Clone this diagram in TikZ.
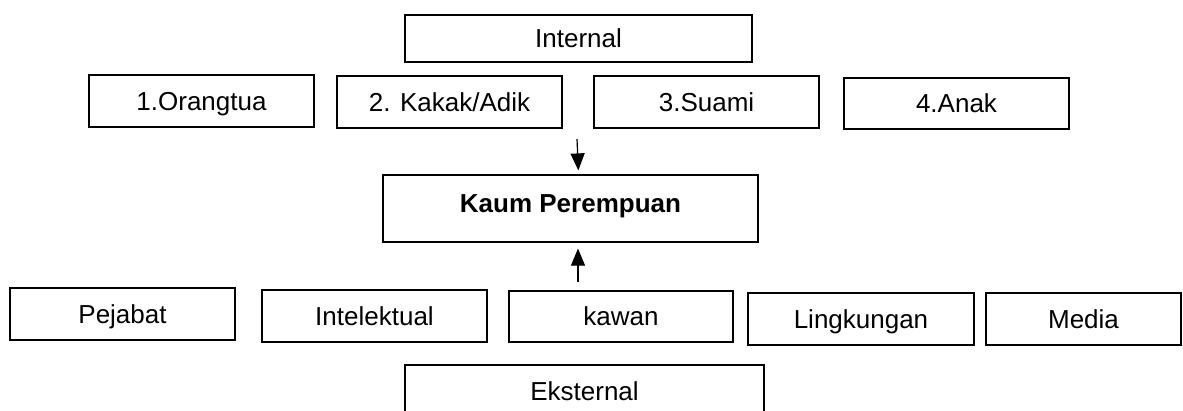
\documentclass[tikz,border=0pt]{standalone}
\usepackage{fontspec}
\setmainfont{Liberation Sans}
\usetikzlibrary{arrows.meta,calc}
\tikzset{
  boxnode/.style={draw, line width=1.2pt, inner sep=0pt, text height=18.6pt, text depth=0pt, font=\fontsize{26}{30}\selectfont},
  arr/.style={line width=1.2pt, -{Triangle[length=17pt,width=14pt]}}
}
\begin{document}
\begin{tikzpicture}[x=1pt,y=-1pt]
\useasboundingbox[fill=white] (0,0) rectangle (1183,410);
\node[boxnode, minimum width=347pt, minimum height=47pt] (internal) at (578.5,38.5) {Internal};
\node[boxnode, minimum width=225pt, minimum height=52pt] (orangtua) at (201.5,101) {1.Orangtua};
\node[boxnode, minimum width=225pt, minimum height=52pt] (kakak) at (449.5,102) {2. Kakak/Adik};
\node[boxnode, minimum width=225pt, minimum height=52pt] (suami) at (706.5,102) {3.Suami};
\node[boxnode, minimum width=225pt, minimum height=51pt] (anak) at (956.5,103.5) {4.Anak};
\node[boxnode, minimum width=375pt, minimum height=67pt, text depth=10pt, font=\fontsize{26}{30}\selectfont\bfseries] (kaum) at (570.5,208.5) {Kaum Perempuan};
\node[boxnode, minimum width=225pt, minimum height=52pt] (pejabat) at (122.5,314) {Pejabat};
\node[boxnode, minimum width=225pt, minimum height=52pt] (intelektual) at (374.5,316) {Intelektual};
\node[boxnode, minimum width=224pt, minimum height=51pt] (kawan) at (621,316.5) {kawan};
\node[boxnode, minimum width=226pt, minimum height=52pt] (lingkungan) at (861,319) {Lingkungan};
\node[boxnode, minimum width=195pt, minimum height=52pt] (media) at (1083.5,319) {Media};
\node[boxnode, minimum width=359pt, minimum height=53pt] (eksternal) at (584.5,391.5) {Eksternal};
\coordinate (dtail) at (577,139);
\coordinate (utail) at (578,282);
\draw[arr, shorten >=4pt] (dtail) -- ($(dtail |- kaum.north)+(1.5,0)$);
\draw[arr, shorten >=6pt] (utail) -- (utail |- kaum.south);
\end{tikzpicture}
\end{document}
